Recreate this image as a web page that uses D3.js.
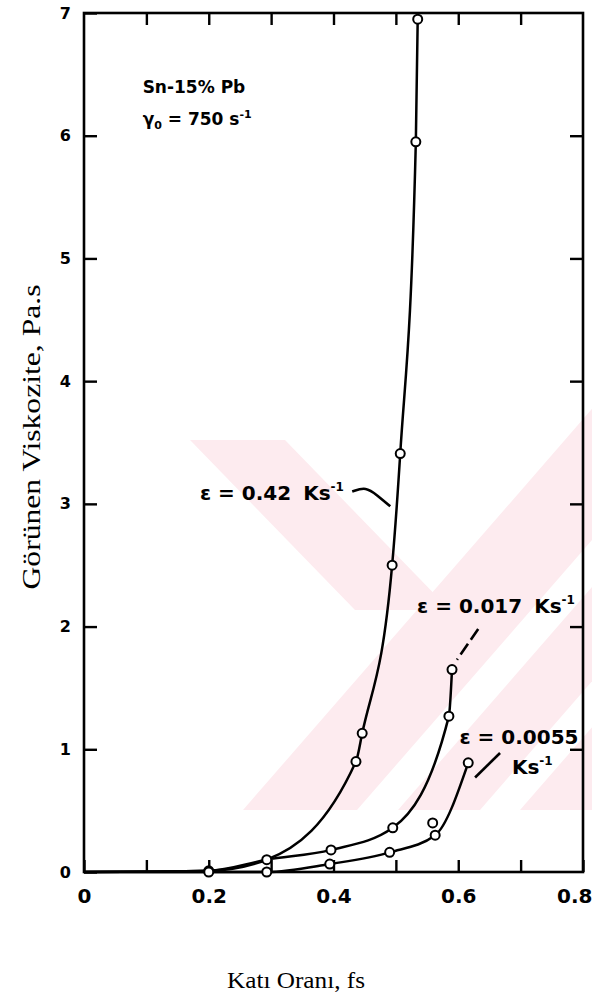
<!DOCTYPE html>
<html>
<head>
<meta charset="utf-8">
<script src="https://cdn.jsdelivr.net/npm/d3@7"></script>
<style>
  html, body { margin: 0; padding: 0; background: #fff; }
  svg { display: block; }
</style>
</head>
<body>
<svg id="chart" width="592" height="1005"></svg>
<script>
// Apparent viscosity of Sn-15% Pb against solid fraction for three cooling rates

// axis ticks
const yTickValues = [0, 1, 2, 3, 4, 5, 6, 7];
const xTickValues = [0, 0.1, 0.2, 0.3, 0.4, 0.5, 0.6, 0.7, 0.8];
const xLabelledTicks = [0, 0.2, 0.4, 0.6, 0.8];

// shared start of the curves
const fsStart = [0];
const etaStart = [0];

// ε = 0.42 K/s
const fsFast = [0.436, 0.446, 0.494, 0.507, 0.532, 0.535];
const etaFast = [0.90, 1.13, 2.50, 3.41, 5.95, 6.95];

// ε = 0.017 K/s
const fsMid = [0.200, 0.293, 0.396, 0.495, 0.585, 0.590];
const etaMid = [0.01, 0.10, 0.18, 0.36, 1.27, 1.65];

// ε = 0.0055 K/s
const fsSlow = [0.200, 0.293, 0.394, 0.490, 0.563, 0.616];
const etaSlow = [0.00, 0.00, 0.065, 0.16, 0.30, 0.89];
const fsSlowExtra = [0.559];
const etaSlowExtra = [0.40];

const svg = d3.select("#chart");
const x = d3.scaleLinear().domain([0, 0.8]).range([84, 583]);
const y = d3.scaleLinear().domain([0, 7]).range([872, 13]);

const zip = (a, b) => a.map((v, i) => [v, b[i]]);

// faint background emblem
const wm = svg.append("g").attr("fill", "#fdebef");
wm.append("clipPath").attr("id", "wmclip")
  .append("rect").attr("x", 185).attr("y", 395).attr("width", 407).attr("height", 415);
const wmg = wm.append("g").attr("clip-path", "url(#wmclip)");
const slant = 0.87;
[[243, 357], [398, 480], [520, 640]].forEach(([a, b]) => {
  const dx = slant * 420;
  wmg.append("path").attr("d", `M${a},810 L${b},810 L${b + dx},390 L${a + dx},390 Z`);
});
wmg.append("path").attr("d", "M190,440 L285,440 L450,610 L355,610 Z");

// frame
svg.append("rect")
  .attr("x", x(0)).attr("y", y(7))
  .attr("width", x(0.8) - x(0)).attr("height", y(0) - y(7))
  .attr("fill", "none").attr("stroke", "#000").attr("stroke-width", 2.6);

// axes
const styleAxis = g => {
  g.select(".domain").remove();
  g.selectAll(".tick line").attr("stroke", "#000").attr("stroke-width", 2.4);
  g.selectAll(".tick text").attr("fill", "#000")
    .attr("font-family", "DejaVu Sans, sans-serif").attr("font-weight", "bold");
};

svg.append("g").attr("transform", `translate(${x(0)},0)`)
  .call(d3.axisLeft(y).tickValues(yTickValues).tickSize(-13).tickPadding(13)
    .tickFormat(d3.format("d")))
  .call(styleAxis)
  .call(g => g.selectAll(".tick text").attr("font-size", 16));

svg.append("g").attr("transform", `translate(${x(0.8)},0)`)
  .call(d3.axisRight(y).tickValues(yTickValues.slice(1, -1)).tickSize(-13).tickFormat(""))
  .call(styleAxis);

svg.append("g").attr("transform", `translate(0,${y(0)})`)
  .call(d3.axisBottom(x).tickValues(xTickValues).tickSize(-12).tickPadding(17)
    .tickFormat(d => xLabelledTicks.includes(d) ? String(d) : ""))
  .call(styleAxis)
  .call(g => g.selectAll(".tick text").attr("font-size", 20))
  // keep the last label inside the page
  .call(g => g.selectAll(".tick text").filter(d => d === 0.8)
    .attr("text-anchor", "end").attr("dx", 9));

svg.append("g").attr("transform", `translate(0,${y(7)})`)
  .call(d3.axisTop(x).tickValues(xTickValues.slice(1, -1)).tickSize(-12).tickFormat(""))
  .call(styleAxis);

// curves
const line = d3.line().x(d => x(d[0])).y(d => y(d[1])).curve(d3.curveMonotoneX);
const curves = [
  zip(fsStart.concat(fsMid.slice(0, 2), fsFast), etaStart.concat(etaMid.slice(0, 2), etaFast)),
  zip(fsStart.concat(fsMid), etaStart.concat(etaMid)),
  zip(fsStart.concat(fsSlow), etaStart.concat(etaSlow))
];
svg.append("g").selectAll("path").data(curves).join("path")
  .attr("d", line).attr("fill", "none").attr("stroke", "#000").attr("stroke-width", 2.5);

// measured points
const points = [].concat(zip(fsFast, etaFast), zip(fsMid, etaMid), zip(fsSlow, etaSlow),
  zip(fsSlowExtra, etaSlowExtra));
svg.append("g").selectAll("circle").data(points).join("circle")
  .attr("cx", d => x(d[0])).attr("cy", d => y(d[1])).attr("r", 4.5)
  .attr("fill", "#fff").attr("stroke", "#000").attr("stroke-width", 2);

// labels
const ann = svg.append("g").attr("font-family", "DejaVu Sans, sans-serif")
  .attr("font-weight", "bold").attr("fill", "#000");

function rateLabel(px, py, parts) {
  const t = ann.append("text").attr("x", px).attr("y", py).attr("font-size", 20);
  parts.forEach(p => {
    const s = t.append("tspan").text(p.t);
    if (p.gap) s.attr("dx", p.gap);
    if (p.sup) s.attr("font-size", 12).attr("dy", -9);
  });
  return t;
}
rateLabel(x(0.186), y(3.03), [{t: "ε = 0.42"}, {t: "Ks", gap: 12}, {t: "-1", sup: true}]);
rateLabel(x(0.534), y(2.11), [{t: "ε = 0.017"}, {t: "Ks", gap: 12}, {t: "-1", sup: true}]);
rateLabel(x(0.602), y(1.04), [{t: "ε = 0.0055"}]);
rateLabel(x(0.686), y(0.795), [{t: "Ks"}, {t: "-1", sup: true}]);

const cond = ann.append("g").attr("font-size", 17);
cond.append("text").attr("x", x(0.094)).attr("y", y(6.35)).text("Sn-15% Pb");
const g2 = cond.append("text").attr("x", x(0.094)).attr("y", y(6.09));
g2.append("tspan").text("γ");
g2.append("tspan").text("0").attr("font-size", 11).attr("dy", 4);
g2.append("tspan").text(" = 750 s").attr("dy", -4);
g2.append("tspan").text("-1").attr("font-size", 11).attr("dy", -7);

// leader lines
const leader = d3.line().x(d => x(d[0])).y(d => y(d[1])).curve(d3.curveBasis);
const leaders = [
  {pts: [[0.430, 3.10], [0.452, 3.14], [0.470, 3.07], [0.491, 2.98]], dash: null},
  {pts: [[0.632, 1.98], [0.598, 1.73]], dash: "13,5"},
  {pts: [[0.667, 0.97], [0.627, 0.77]], dash: null}
];
svg.append("g").selectAll("path").data(leaders).join("path")
  .attr("d", d => leader(d.pts)).attr("fill", "none").attr("stroke", "#000")
  .attr("stroke-width", 2.6).attr("stroke-dasharray", d => d.dash);

// axis titles
svg.append("text")
  .attr("transform", "translate(31,437) rotate(-90)")
  .attr("text-anchor", "middle").attr("dominant-baseline", "central")
  .attr("font-family", "Liberation Serif, serif").attr("font-size", 26)
  .attr("textLength", 305).attr("lengthAdjust", "spacingAndGlyphs")
  .text("Görünen Viskozite, Pa.s");

svg.append("text")
  .attr("x", 296).attr("y", 988)
  .attr("text-anchor", "middle")
  .attr("font-family", "Liberation Serif, serif").attr("font-size", 24)
  .attr("textLength", 138).attr("lengthAdjust", "spacingAndGlyphs")
  .text("Katı Oranı, fs");
</script>
</body>
</html>
